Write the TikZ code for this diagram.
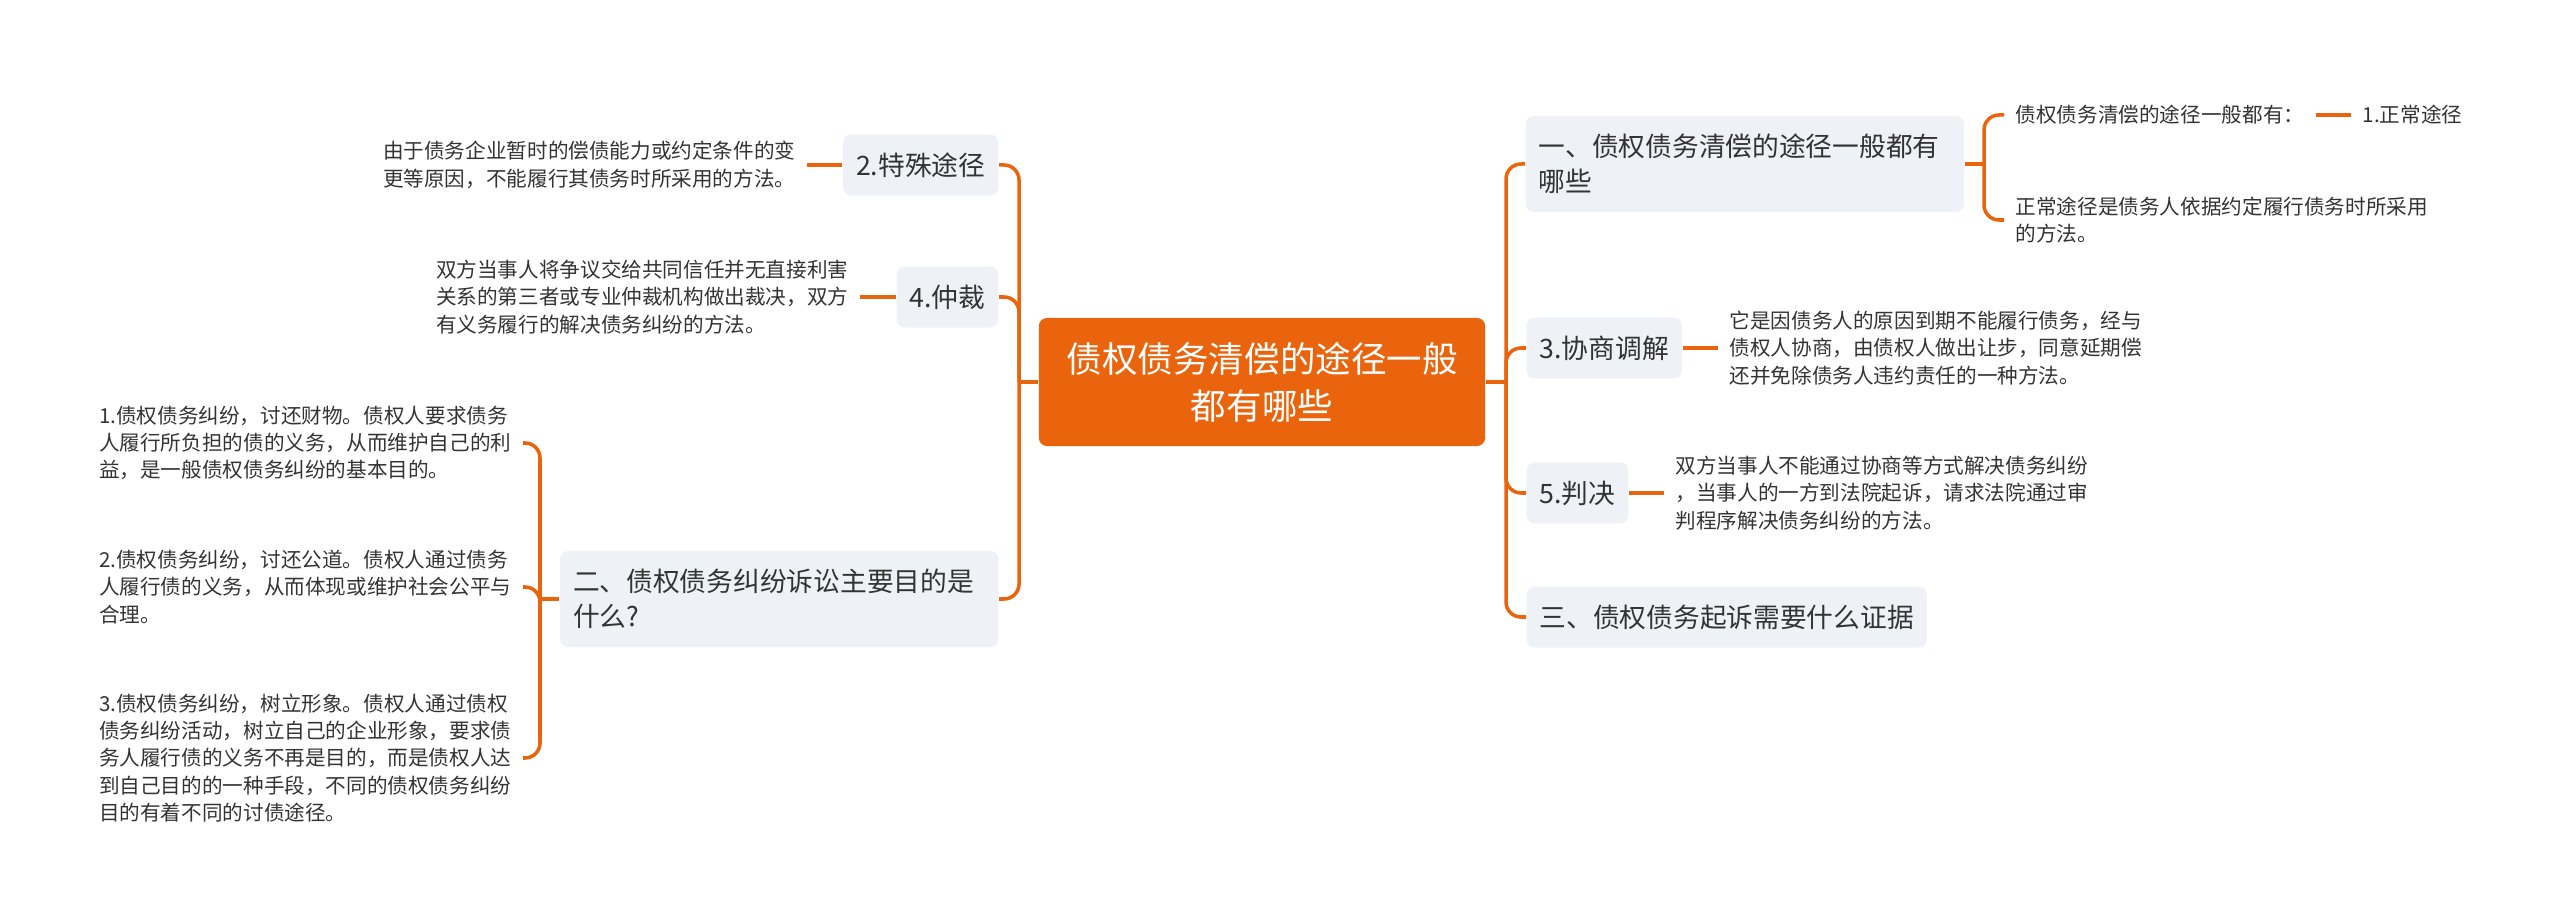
\documentclass[tikz,border=0pt]{standalone}
\usepackage{fontspec}
\setmainfont{Noto Sans CJK SC}
\usepackage{tikz}
\definecolor{mmorange}{RGB}{233,100,12}
\definecolor{mmgray}{RGB}{238,241,245}
\definecolor{mmtext}{RGB}{51,51,51}

\begin{document}
\begin{tikzpicture}[x=0.01cm, y=-0.01cm,
	root/.style={fill=mmorange, rounded corners=2.3pt, text=white, font=\fontsize{10.1}{13.4}\selectfont, align=center, text width=3.9cm, minimum height=1.28cm, inner xsep=0.28cm},
	topic/.style={fill=mmgray, rounded corners=2.3pt, text=mmtext, font=\fontsize{7.6}{10}\selectfont, inner xsep=0.13cm, minimum height=0.61cm},
	wide/.style={topic, align=left, text width=4.12cm, minimum height=0.96cm},
	leaf/.style={text=mmtext, font=\fontsize{5.86}{7.8}\selectfont, align=left, inner xsep=0.11cm},
	conn/.style={draw=mmorange, line width=1pt, rounded corners=1.5mm}]
	\useasboundingbox (0,0) rectangle (2560,922);
	\node[root] (main) at (1262,382) {债权债务清偿的途径一般\\都有哪些};
	\node[wide, anchor=west] (q1) at (1525,164) {一、债权债务清偿的途径一般都有\\哪些};
	\node[topic, anchor=west] (m3) at (1526,348) {3.协商调解};
	\node[topic, anchor=west] (m5) at (1526,493) {5.判决};
	\node[topic, anchor=west] (q3) at (1526,617) {三、债权债务起诉需要什么证据};
	\node[topic, anchor=east] (m2) at (999,165) {2.特殊途径};
	\node[topic, anchor=east] (m4) at (999,297) {4.仲裁};
	\node[wide, anchor=east] (q2) at (999,599) {二、债权债务纠纷诉讼主要目的是\\什么?};
	\node[leaf, anchor=west] (q1a) at (2004,115) {债权债务清偿的途径一般都有：};
	\node[leaf, anchor=west] (q1c) at (2351,115) {1.正常途径};
	\node[leaf, anchor=west] (q1b) at (2004,220) {正常途径是债务人依据约定履行债务时所采用\\的方法。};
	\node[leaf, anchor=west] (m3t) at (1718,348) {它是因债务人的原因到期不能履行债务，经与\\债权人协商，由债权人做出让步，同意延期偿\\还并免除债务人违约责任的一种方法。};
	\node[leaf, anchor=west] (m5t) at (1664,493) {双方当事人不能通过协商等方式解决债务纠纷\\，当事人的一方到法院起诉，请求法院通过审\\判程序解决债务纠纷的方法。};
	\node[leaf, anchor=east] (m2t) at (807,165) {由于债务企业暂时的偿债能力或约定条件的变\\更等原因，不能履行其债务时所采用的方法。};
	\node[leaf, anchor=east] (m4t) at (860,297) {双方当事人将争议交给共同信任并无直接利害\\关系的第三者或专业仲裁机构做出裁决，双方\\有义务履行的解决债务纠纷的方法。};
	\node[leaf, anchor=east] (q2a) at (523,443) {1.债权债务纠纷，讨还财物。债权人要求债务\\人履行所负担的债的义务，从而维护自己的利\\益，是一般债权债务纠纷的基本目的。};
	\node[leaf, anchor=east] (q2b) at (523,587) {2.债权债务纠纷，讨还公道。债权人通过债务\\人履行债的义务，从而体现或维护社会公平与\\合理。};
	\node[leaf, anchor=east] (q2c) at (523,758) {3.债权债务纠纷，树立形象。债权人通过债权\\债务纠纷活动，树立自己的企业形象，要求债\\务人履行债的义务不再是目的，而是债权人达\\到自己目的的一种手段，不同的债权债务纠纷\\目的有着不同的讨债途径。};
	\coordinate (rj) at (1506,382);
	\coordinate (lj) at (1019,382);
	\coordinate (q1j) at (1984,164);
	\coordinate (q2j) at (540,599);
	\draw[conn] (main.east) -- (rj);
	\draw[conn] (rj) |- (q1.west);
	\draw[conn] (rj) |- (m3.west);
	\draw[conn] (rj) |- (m5.west);
	\draw[conn] (rj) |- (q3.west);
	\draw[conn] (main.west) -- (lj);
	\draw[conn] (lj) |- (m2.east);
	\draw[conn] (lj) |- (m4.east);
	\draw[conn] (lj) |- (q2.east);
	\draw[conn] (q1.east) -- (q1j);
	\draw[conn] (q1j) |- (q1a.west);
	\draw[conn] (q1j) |- (q1b.west);
	\draw[conn] (q1a.east) -- (q1c.west);
	\draw[conn] (m3.east) -- (m3t.west);
	\draw[conn] (m5.east) -- (m5t.west);
	\draw[conn] (m2.west) -- (m2t.east);
	\draw[conn] (m4.west) -- (m4t.east);
	\draw[conn] (q2.west) -- (q2j);
	\draw[conn] (q2j) |- (q2a.east);
	\draw[conn] (q2j) |- (q2b.east);
	\draw[conn] (q2j) |- (q2c.east);
\end{tikzpicture}
\end{document}
